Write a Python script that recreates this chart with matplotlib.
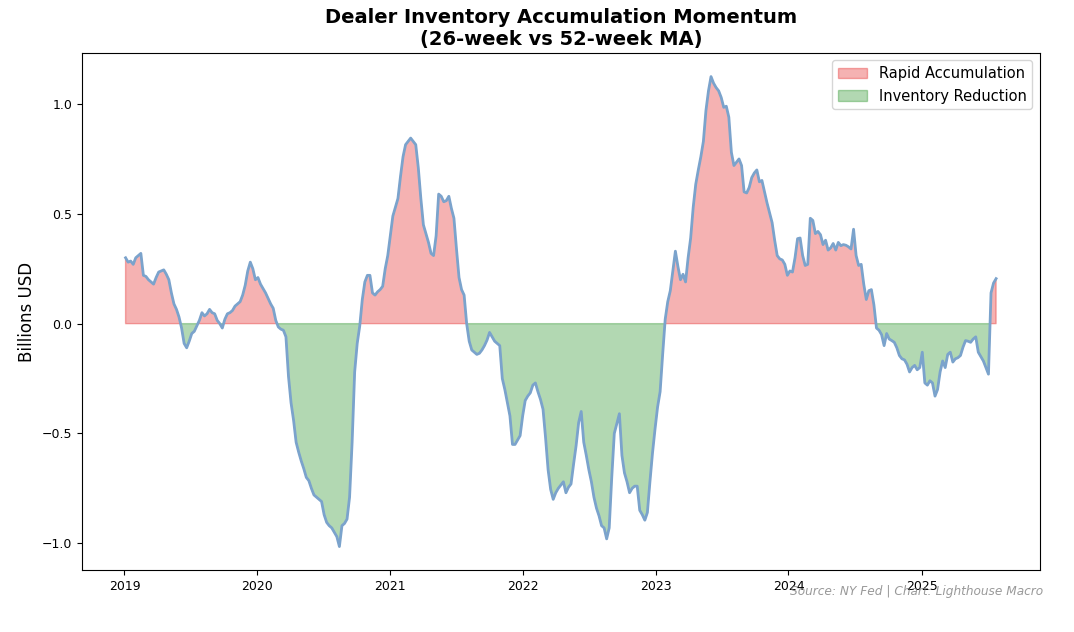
import numpy as np
import pandas as pd
import matplotlib
matplotlib.use("Agg")
import matplotlib.pyplot as plt
import matplotlib.dates as mdates

# weekly readings (billions USD), 52 per block, first week 2019-01-04
mom_2019 = [0.30, 0.28, 0.285, 0.27, 0.30, 0.31, 0.32, 0.22, 0.215, 0.20,
            0.19, 0.18, 0.21, 0.235, 0.24, 0.245, 0.225, 0.20, 0.14, 0.09,
            0.065, 0.03, -0.02, -0.09, -0.11, -0.08, -0.045, -0.035, -0.01, 0.015,
            0.05, 0.035, 0.045, 0.065, 0.05, 0.045, 0.015, 0.0, -0.02, 0.02,
            0.045, 0.05, 0.06, 0.08, 0.09, 0.10, 0.13, 0.175, 0.24, 0.28,
            0.25, 0.20]
mom_2020 = [0.21, 0.18, 0.16, 0.14, 0.115, 0.09, 0.07, 0.015, -0.015, -0.025,
            -0.03, -0.06, -0.24, -0.36, -0.44, -0.54, -0.585, -0.625, -0.66, -0.70,
            -0.715, -0.75, -0.78, -0.79, -0.80, -0.81, -0.87, -0.905, -0.92, -0.93,
            -0.95, -0.97, -1.015, -0.92, -0.91, -0.89, -0.79, -0.54, -0.22, -0.09,
            -0.01, 0.11, 0.19, 0.22, 0.22, 0.14, 0.13, 0.145, 0.155, 0.17,
            0.25, 0.31]
mom_2021 = [0.40, 0.49, 0.53, 0.57, 0.67, 0.76, 0.815, 0.83, 0.845, 0.83,
            0.815, 0.71, 0.57, 0.45, 0.41, 0.37, 0.32, 0.31, 0.40, 0.59,
            0.58, 0.555, 0.56, 0.58, 0.525, 0.48, 0.34, 0.21, 0.155, 0.13,
            0.0, -0.08, -0.12, -0.13, -0.14, -0.135, -0.12, -0.10, -0.075, -0.04,
            -0.06, -0.08, -0.09, -0.10, -0.25, -0.30, -0.36, -0.42, -0.55, -0.55,
            -0.53, -0.51]
mom_2022 = [-0.42, -0.35, -0.33, -0.315, -0.28, -0.27, -0.31, -0.345, -0.39, -0.52,
            -0.666, -0.755, -0.80, -0.77, -0.75, -0.735, -0.72, -0.77, -0.745, -0.73,
            -0.64, -0.555, -0.45, -0.40, -0.54, -0.60, -0.665, -0.72, -0.79, -0.84,
            -0.875, -0.92, -0.93, -0.98, -0.93, -0.70, -0.50, -0.455, -0.41, -0.60,
            -0.68, -0.72, -0.77, -0.75, -0.74, -0.74, -0.85, -0.87, -0.895, -0.86,
            -0.72, -0.59]
mom_2023 = [-0.48, -0.38, -0.31, -0.14, 0.02, 0.10, 0.15, 0.24, 0.33, 0.26,
            0.20, 0.225, 0.19, 0.30, 0.39, 0.53, 0.635, 0.70, 0.76, 0.83,
            0.97, 1.06, 1.125, 1.095, 1.075, 1.06, 1.03, 0.985, 0.99, 0.94,
            0.78, 0.72, 0.735, 0.75, 0.72, 0.60, 0.595, 0.62, 0.665, 0.686,
            0.70, 0.646, 0.652, 0.60, 0.55, 0.505, 0.46, 0.38, 0.31, 0.295,
            0.29, 0.27]
mom_2024 = [0.22, 0.24, 0.235, 0.30, 0.387, 0.39, 0.31, 0.265, 0.27, 0.48,
            0.47, 0.41, 0.42, 0.405, 0.36, 0.38, 0.335, 0.345, 0.365, 0.335,
            0.37, 0.355, 0.36, 0.357, 0.35, 0.34, 0.43, 0.31, 0.265, 0.27,
            0.18, 0.11, 0.15, 0.155, 0.085, -0.02, -0.03, -0.05, -0.10, -0.045,
            -0.07, -0.077, -0.085, -0.11, -0.145, -0.16, -0.165, -0.185, -0.22, -0.20,
            -0.19, -0.21]
mom_2025 = [-0.20, -0.13, -0.27, -0.28, -0.26, -0.27, -0.33, -0.30, -0.22, -0.17,
            -0.20, -0.14, -0.13, -0.175, -0.16, -0.155, -0.145, -0.107, -0.077, -0.08,
            -0.085, -0.07, -0.06, -0.13, -0.15, -0.17, -0.20, -0.23, 0.14, 0.185,
            0.205]

momentum = np.array(mom_2019 + mom_2020 + mom_2021 + mom_2022 +
                    mom_2023 + mom_2024 + mom_2025)
dates = pd.date_range("2019-01-04", periods=len(momentum), freq="W-FRI")

fig = plt.figure(figsize=(10.74, 6.32), dpi=100)
ax = fig.add_axes([0.0764, 0.098, 0.8916, 0.818])

ax.fill_between(dates, 0, momentum, where=momentum >= 0, interpolate=True,
                color="#e00000", alpha=0.3, label="Rapid Accumulation")
ax.fill_between(dates, 0, momentum, where=momentum < 0, interpolate=True,
                color="green", alpha=0.3, label="Inventory Reduction")
ax.plot(dates, momentum, color="#7ba3cc", linewidth=2)

ax.set_title("Dealer Inventory Accumulation Momentum\n(26-week vs 52-week MA)",
             fontsize=14, fontweight="bold")
ax.set_ylabel("Billions USD", fontsize=12)
ax.xaxis.set_major_locator(mdates.YearLocator())
ax.xaxis.set_major_formatter(mdates.DateFormatter("%Y"))
ax.tick_params(labelsize=9)
ax.legend(loc="upper right", fontsize=10.5)

fig.text(0.971, 0.064, "Source: NY Fed | Chart: Lighthouse Macro",
         ha="right", va="center", fontsize=8.7, style="italic", color="gray",
         alpha=0.8)

fig.savefig("out.png", dpi=100)
